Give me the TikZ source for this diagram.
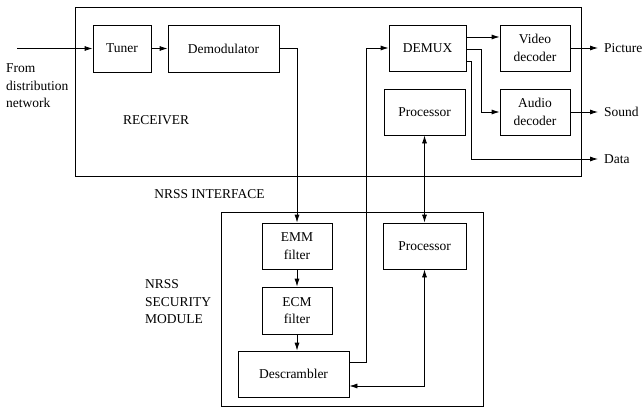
\documentclass[tikz,border=0pt]{standalone}
\usepackage{fontspec}
\setmainfont{Liberation Serif}
\usetikzlibrary{arrows.meta}
\begin{document}
\begin{tikzpicture}[x=1pt,y=-1pt,
  every node/.style={font=\fontsize{13.5}{17.5}\selectfont},
  blk/.style={draw,line width=0.8pt,inner sep=0pt,align=center},
  frame/.style={draw,line width=0.8pt},
  conn/.style={line width=0.8pt},
  arr/.style={conn,-{Latex[length=8pt,width=5pt]}},
  darr/.style={conn,{Latex[length=8pt,width=5pt]}-{Latex[length=8pt,width=5pt]}},
  lbl/.style={inner sep=0pt,align=left}]
\useasboundingbox (0,0) rectangle (642,409);
% frames
\draw[frame] (75,7) rectangle (581,176);
\draw[frame] (221,212) rectangle (483,406);
% receiver blocks
\node[blk,minimum width=58pt,minimum height=47pt] (tuner) at (122,48.5) {Tuner};
\node[blk,minimum width=111pt,minimum height=47pt] (demod) at (223.5,48.5) {Demodulator};
\node[blk,minimum width=77pt,minimum height=46pt] (demux) at (427.5,48) {DEMUX};
\node[blk,minimum width=70pt,minimum height=46pt] (video) at (535,48) {Video\\decoder};
\node[blk,minimum width=81pt,minimum height=46pt] (proc1) at (424.5,112) {Processor};
\node[blk,minimum width=70pt,minimum height=46pt] (audio) at (535,112) {Audio\\decoder};
% security module blocks
\node[blk,minimum width=70pt,minimum height=46pt] (emm) at (297,246) {EMM\\filter};
\node[blk,minimum width=70pt,minimum height=47pt] (ecm) at (297,310.5) {ECM\\filter};
\node[blk,minimum width=111pt,minimum height=46pt] (desc) at (293.5,374) {Descrambler};
\node[blk,minimum width=83pt,minimum height=46pt] (proc2) at (424.5,246) {Processor};
% labels
\node[lbl,anchor=west] (from) at (6,86) {From\\distribution\\network};
\node[lbl] (recv) at (156,120) {RECEIVER};
\node[lbl] (iface) at (209.5,194) {NRSS INTERFACE};
\node[lbl,anchor=west] (secmod) at (145,302) {NRSS\\SECURITY\\MODULE};
\node[lbl,anchor=west] (pic) at (604,48) {Picture};
\node[lbl,anchor=west] (snd) at (604,112) {Sound};
\node[lbl,anchor=west] (dat) at (604,159) {Data};
% coordinates
\coordinate (in) at (17,48.5);
\coordinate (picend) at (598,48);
\coordinate (sndend) at (598,112);
\coordinate (datend) at (598,159);
% connectors
\draw[arr] (in) -- (tuner.west);
\draw[arr] (tuner) -- (demod);
\draw[arr] (demod.east) -- (297,48.5) -- (emm.north);
\draw[arr] (emm) -- (ecm);
\draw[arr] (ecm.south) -- (ecm.south |- desc.north);
\draw[arr] (desc.east |- 0,362) -- (366,362) -- (366,48) -- (demux.west);
\draw[arr] (demux.east |- 0,37) -- (video.west |- 0,37);
\draw[arr] (demux.east |- 0,49) -- (481,49) -- (481,112) -- (audio.west);
\draw[arr] (demux.east |- 0,61) -- (471,61) -- (471,159) -- (datend);
\draw[arr] (video.east) -- (picend);
\draw[arr] (audio.east) -- (sndend);
\draw[darr] (proc1.south) -- (proc2.north);
\draw[darr] (proc2.south) -- (424.5,386) -- (desc.east |- 0,386);
\end{tikzpicture}
\end{document}
